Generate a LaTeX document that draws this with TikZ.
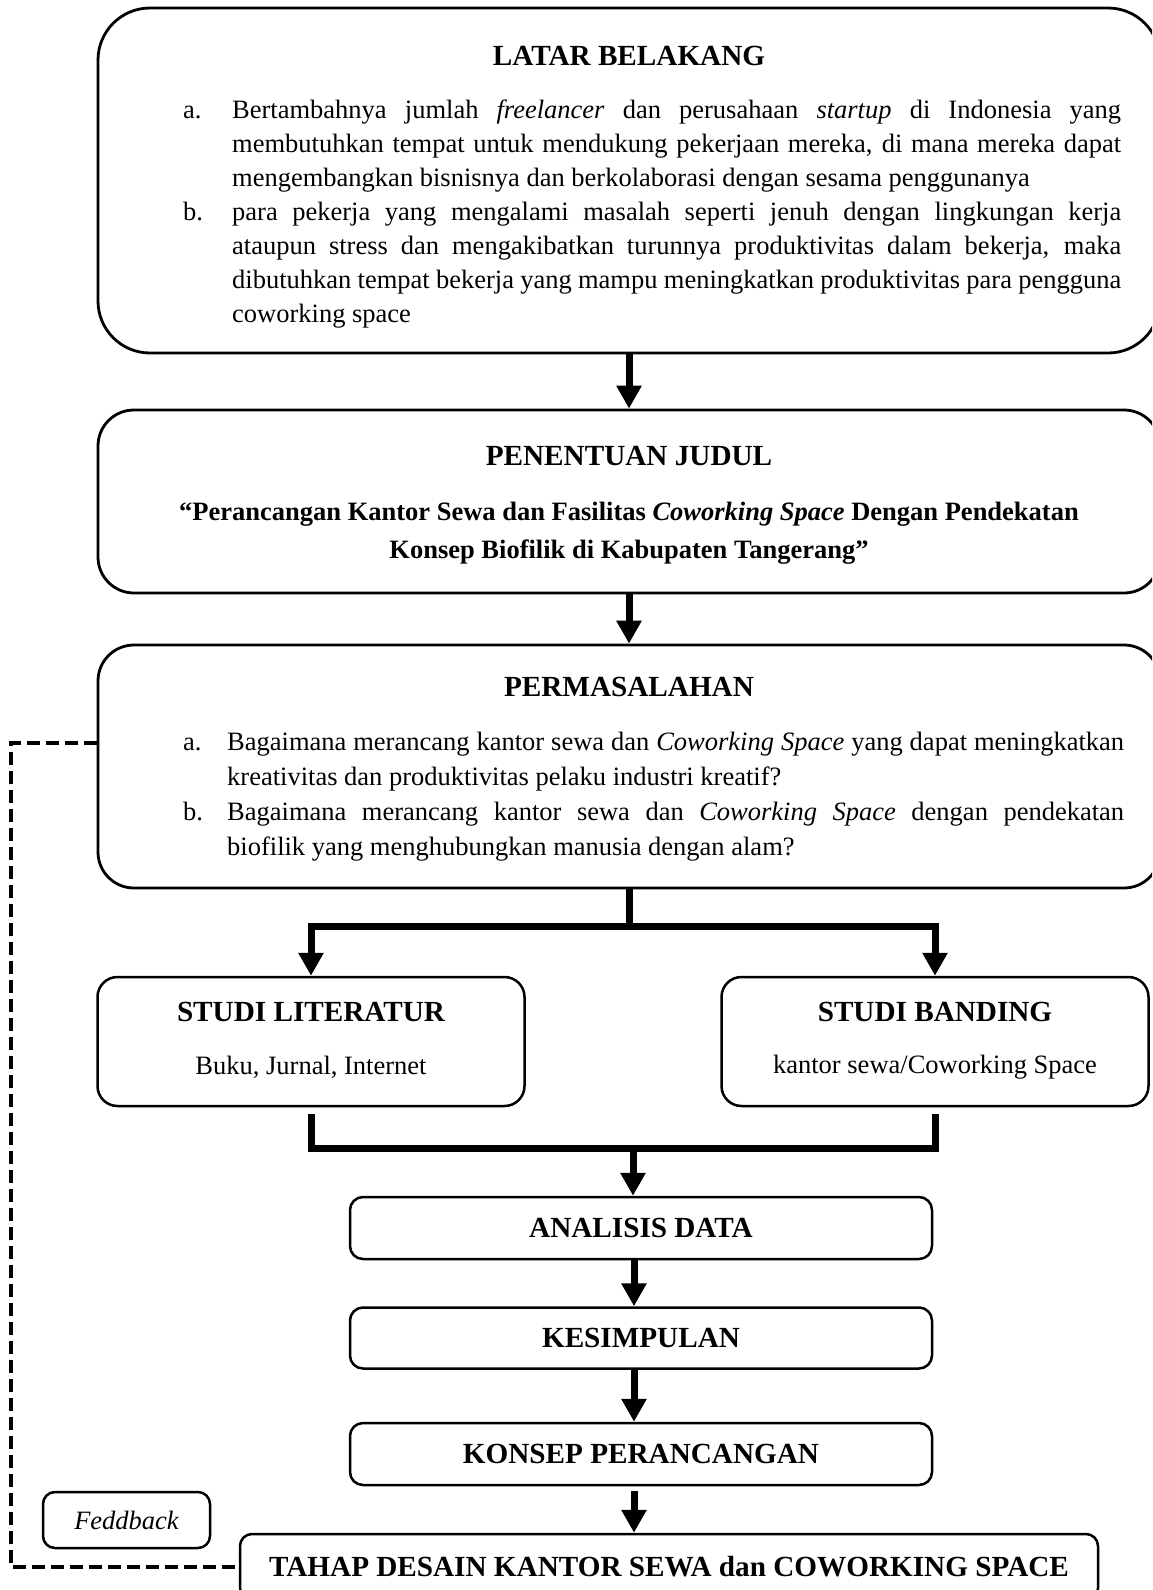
\documentclass[tikz,border=0pt]{standalone}
\usepackage{fontspec}
\setmainfont{Liberation Serif}
\usetikzlibrary{arrows.meta,positioning}
\hyphenpenalty=10000
\tolerance=9999
\newcommand{\butir}[3]{\hangindent=#1\hangafter=1\noindent\makebox[#1][l]{#2}#3\par}

\begin{document}
\begin{tikzpicture}[
  x=1pt, y=-1pt,
  font=\fontsize{26.5}{34}\selectfont,
  bigbox/.style={draw,line width=2.8pt,rounded corners=36pt,minimum width=1062pt,inner sep=0pt},
  studibox/.style={draw,line width=2.5pt,rounded corners=20pt,minimum width=427pt,minimum height=129pt,inner sep=0pt},
  smallbox/.style={draw,line width=2.5pt,rounded corners=13pt,minimum width=582pt,minimum height=62pt,inner sep=0pt,font=\fontsize{29.2}{35}\selectfont\bfseries},
  ttl/.style={inner sep=0pt,font=\fontsize{29.2}{35}\selectfont\bfseries},
  body/.style={inner sep=0pt,anchor=north west,align=justify},
  arr/.style={line width=7pt,-{Triangle[length=23pt,width=24pt]}},
  conn/.style={line width=7pt},
  fb/.style={line width=3.5pt,dash pattern=on 13pt off 6pt}
]
\useasboundingbox (0,0) rectangle (1152,1590);
\clip (0,0) rectangle (1152,1590);
% latar belakang
\node[bigbox,rounded corners=52pt,minimum height=345pt] (latar) at (629,180.5) {};
\node[ttl] (latarT) at (629,56) {LATAR BELAKANG};
\node[body,text width=938pt] (latarI) at (183,100) {%
\butir{49pt}{a.}{Bertambahnya jumlah \textit{freelancer} dan perusahaan \textit{startup} di Indonesia yang\linebreak membutuhkan tempat untuk mendukung pekerjaan mereka, di mana mereka dapat\linebreak mengembangkan bisnisnya dan berkolaborasi dengan sesama penggunanya}%
\butir{49pt}{b.}{para pekerja yang mengalami masalah seperti jenuh dengan lingkungan kerja\linebreak ataupun stress dan mengakibatkan turunnya produktivitas dalam bekerja, maka\linebreak dibutuhkan tempat bekerja yang mampu meningkatkan produktivitas para pengguna\linebreak coworking space}};
% penentuan judul
\node[bigbox,minimum height=183pt] (judul) at (629,501.5) {};
\node[ttl] (judulT) at (629,456) {PENENTUAN JUDUL};
\node[inner sep=0pt,anchor=north,align=center,font=\fontsize{26.5}{38}\selectfont\bfseries] (judulI) at (629,502)
  {“Perancangan Kantor Sewa dan Fasilitas \textit{Coworking Space} Dengan Pendekatan\\Konsep Biofilik di Kabupaten Tangerang”};
% permasalahan
\node[bigbox,minimum height=243pt] (masalah) at (629,766.5) {};
\node[ttl] (masalahT) at (629,687) {PERMASALAHAN};
\node[body,text width=941pt,font=\fontsize{26.5}{35}\selectfont] (masalahI) at (183,732) {%
\butir{44pt}{a.}{Bagaimana merancang kantor sewa dan \textit{Coworking Space} yang dapat meningkatkan\linebreak kreativitas dan produktivitas pelaku industri kreatif?}%
\butir{44pt}{b.}{Bagaimana merancang kantor sewa dan \textit{Coworking Space} dengan pendekatan\linebreak biofilik yang menghubungkan manusia dengan alam?}};
% studi literatur / studi banding
\node[studibox] (sl) at (311,1041.5) {};
\node[ttl] (slT) at (311,1012) {STUDI LITERATUR};
\node[inner sep=0pt] (slI) at (311,1067) {Buku, Jurnal, Internet};
\node[studibox] (sb) at (935,1041.5) {};
\node[ttl] (sbT) at (935,1012) {STUDI BANDING};
\node[inner sep=0pt] (sbI) at (935,1067) {kantor sewa/Coworking Space};
% analysis chain
\node[smallbox] (ad) at (641,1228) {ANALISIS DATA};
\node[smallbox,below=46pt of ad,minimum height=61pt] (ks) {KESIMPULAN};
\node[smallbox,below=52pt of ks] (kp) {KONSEP PERANCANGAN};
\node[smallbox,minimum width=858pt,minimum height=66pt,rounded corners=12pt] (td) at (669,1567) {TAHAP DESAIN KANTOR SEWA dan COWORKING SPACE};
\node[draw,line width=2.5pt,rounded corners=12pt,minimum width=167pt,minimum height=56pt,inner sep=0pt,font=\fontsize{26.5}{34}\selectfont\itshape] (fbk) at (126.5,1520) {Feddback};
% arrows
\draw[arr] (latar.south) -- (judul.north);
\draw[arr] (judul.south) -- (masalah.north);
\coordinate (fork) at (629,926);
\draw[conn] (masalah.south) -- (fork);
\draw[arr] (fork) -| (sl.north);
\draw[arr] (fork) -| (sb.north);
\coordinate (merge) at (633,1148);
\draw[conn,shorten <=7pt] (sl.south) |- (merge);
\draw[conn,shorten <=7pt] (sb.south) |- (merge);
\draw[arr] (merge) -- (merge |- ad.north);
\draw[arr] ([xshift=-7pt]ad.south) -- ([xshift=-7pt]ks.north);
\draw[arr] ([xshift=-7pt]ks.south) -- ([xshift=-7pt]kp.north);
\draw[arr,shorten <=5pt] ([xshift=-7pt]kp.south) -- ([xshift=-7pt]kp.south |- td.north);
% feedback loop
\draw[fb] ([yshift=23.5pt]masalah.west) -| (11,1567) -- (td.west);
\end{tikzpicture}
\end{document}
